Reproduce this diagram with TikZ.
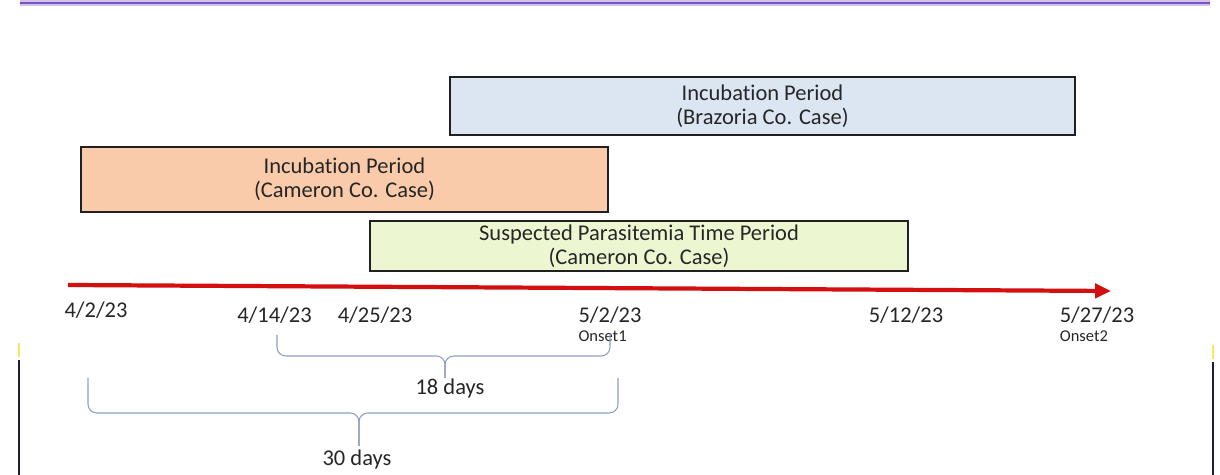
\documentclass[tikz,border=0pt]{standalone}
\usepackage{fontspec}
\setmainfont{Carlito}[Ligatures=NoCommon]
\usetikzlibrary{arrows.meta}
\definecolor{brazblue}{HTML}{DCE6F2}
\definecolor{camorange}{HTML}{F9CBAA}
\definecolor{parasgreen}{HTML}{ECF7D2}
\definecolor{boxedge}{HTML}{202020}
\definecolor{tlred}{HTML}{D40F0F}
\definecolor{bracecol}{HTML}{8C9DC6}
\definecolor{framepurple}{HTML}{7A50C2}
\definecolor{framenavy}{HTML}{1E1E3C}
\begin{document}
\begin{tikzpicture}[x={(0.02cm,0)}, y={(0,-0.02cm)},
    every node/.style={inner sep=0pt, text=black!85},
    period/.style={draw=boxedge, line width=1.2pt, align=center, font=\fontsize{12.8}{13.4}\selectfont},
    date/.style={font=\fontsize{12.8}{14}\selectfont},
    onset/.style={font=\fontsize{9.4}{10}\selectfont, anchor=north west},
    brace/.style={draw=bracecol, line width=0.6pt, rounded corners=5pt}]
  \useasboundingbox (0,0) rectangle (1220,475);
  % frame bits of the screenshot
  \draw [framepurple!35, line width=3.2pt] (20,3) -- (1210,3);
  \draw [framepurple, line width=1.6pt] (20,3) -- (1210,3);
  \draw [framenavy, line width=1.2pt] (19,360) -- (19,475);
  \draw [framenavy, line width=1.2pt] (1213,362) -- (1213,475);
  \draw [yellow!70!orange!60, line width=1pt] (19,343) -- (19,357);
  \draw [yellow!70!orange!60, line width=1pt] (1213,345) -- (1213,359);
  % periods
  \node [period, fill=brazblue, minimum width=12.5cm, minimum height=1.16cm] (braz) at (762.5,106) {Incubation Period\\(Brazoria Co. Case)};
  \node [period, fill=camorange, minimum width=10.54cm, minimum height=1.3cm] (cam) at (344.5,179.5) {Incubation Period\\(Cameron Co. Case)};
  \node [period, fill=parasgreen, minimum width=10.76cm, minimum height=1.0cm] (paras) at (639,246) {Suspected Parasitemia Time Period\\(Cameron Co. Case)};
  % timeline
  \coordinate (t0) at (68,285);
  \coordinate (t1) at (1111,291);
  \draw [tlred, line width=2.4pt, -{Triangle[length=9pt,width=8pt]}] (t0) -- (t1);
  % dates
  \node [date] (d1) at (96,310) {4/2/23};
  \node [date] (d2) at (274.5,315) {4/14/23};
  \node [date] (d3) at (375,315) {4/25/23};
  \node [date] (d4) at (610,315) {5/2/23};
  \node [date] (d5) at (906,315) {5/12/23};
  \node [date] (d6) at (1097,315) {5/27/23};
  \node [onset] (o1) at ([yshift=-4pt]d4.south west) {Onset1};
  \node [onset] (o2) at ([yshift=-4pt]d6.south west) {Onset2};
  % braces
  \draw [brace] (277,335) -- (277,356) -- (445,356) -- (445,378);
  \draw [brace] (445,378) -- (445,356) -- (610,356) -- (610,334);
  \node [date] (n18) at (450,389) {18 days};
  \draw [brace] (88,378) -- (88,413) -- (359,413) -- (359,446);
  \draw [brace] (359,446) -- (359,413) -- (618,413) -- (618,378);
  \node [date] (n30) at (357,460) {30 days};
\end{tikzpicture}
\end{document}
